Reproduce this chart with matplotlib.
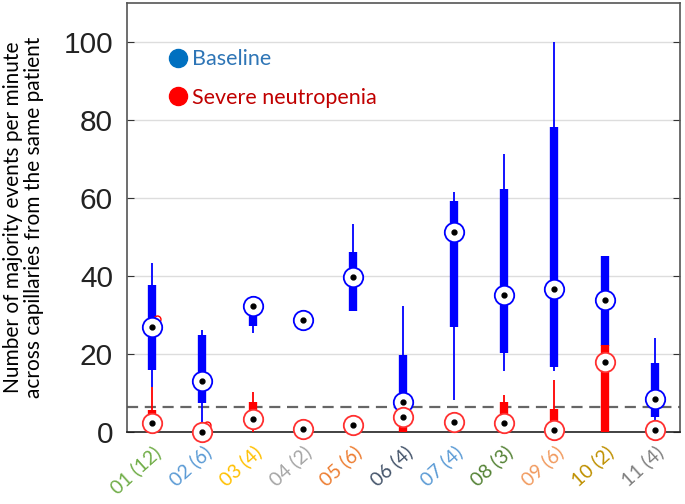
import numpy as np
import matplotlib
matplotlib.use("Agg")
import matplotlib.pyplot as plt
from matplotlib.lines import Line2D

# patient labels (number of capillaries)
patients = ['01 (12)', '02 (6)', '03 (4)', '04 (2)', '05 (6)', '06 (4)',
            '07 (4)', '08 (3)', '09 (6)', '10 (2)', '11 (4)']
label_colors = ['#70ad47', '#5b9bd5', '#ffc000', '#a5a5a5', '#ed7d31', '#44546a',
                '#5b9bd5', '#548235', '#f19a5e', '#bf9000', '#7f7f7f']

# baseline: whisker low, q1, median, q3, whisker high
base_wlo = [11.6, 0.5, 25.4, 28.0, 31.1, 5.0, 8.2, 15.5, 15.5, 22.0, 3.0]
base_q1 = [15.9, 7.4, 27.0, 28.0, 31.1, 6.0, 26.9, 20.3, 16.6, 22.0, 3.9]
base_med = [26.8, 12.9, 32.2, 28.7, 39.7, 7.5, 51.3, 35.2, 36.7, 33.7, 8.3]
base_q3 = [37.7, 24.9, 32.5, 30.0, 46.0, 19.7, 59.2, 62.2, 78.1, 45.0, 17.6]
base_whi = [43.4, 26.0, 33.0, 30.0, 53.2, 32.2, 61.4, 71.2, 100.1, 45.0, 24.0]

# severe neutropenia
sev_wlo = [0.0, 0.0, 0.0, 0.5, 1.0, 0.0, 2.0, 0.0, 0.0, 0.0, 0.0]
sev_q1 = [0.0, 0.0, 1.0, 0.5, 1.0, 0.0, 2.0, 0.5, 0.0, 0.0, 0.0]
sev_med = [2.3, 0.0, 3.2, 0.7, 1.6, 3.7, 2.4, 2.2, 0.4, 17.9, 0.4]
sev_q3 = [5.6, 0.5, 7.7, 1.0, 2.0, 4.5, 3.0, 7.7, 5.8, 22.3, 1.0]
sev_whi = [11.6, 1.0, 10.3, 1.0, 2.0, 5.0, 3.0, 9.5, 13.3, 22.3, 1.0]
sev_out_x = [1, 2]
sev_out_y = [29.0, 1.8]

threshold = 6.3

fig = plt.figure(figsize=(6.85, 5.04), dpi=100)
ax = fig.add_axes([0.1854, 0.1434, 0.8073, 0.8506])

x = np.arange(1, len(patients) + 1)

ax.set_xlim(0.5, 11.5)
ax.set_ylim(0, 110)
ax.set_yticks([0, 20, 40, 60, 80, 100])
ax.grid(axis='y', color='#dddddd', lw=1)
ax.set_axisbelow(True)

ax.axhline(threshold, color='#666666', ls=(0, (5, 3)), lw=1.6, zorder=2)

for wlo, q1, med, q3, whi, col, z in [
        (base_wlo, base_q1, base_med, base_q3, base_whi, '#0000ff', 3),
        (sev_wlo, sev_q1, sev_med, sev_q3, sev_whi, '#ff0000', 4)]:
    ax.vlines(x, wlo, whi, color=col, lw=1.3, zorder=z)
    ax.vlines(x, q1, q3, color=col, lw=6, zorder=z)

ax.plot(np.array(sev_out_x) + 0.09, sev_out_y, 'o', ms=5, mfc='none', mec='#ff0000', mew=1, zorder=4)

# medians
ax.plot(x, base_med, 'o', ms=14, mfc='white', mec='#0000ff', mew=1.3, zorder=5, clip_on=False)
ax.plot(x, base_med, 'o', ms=3.5, color='black', zorder=6, clip_on=False)
ax.plot(x, sev_med, 'o', ms=14, mfc='white', mec='#ff3030', mew=1.3, zorder=5, clip_on=False)
ax.plot(x, sev_med, 'o', ms=3.5, color='black', zorder=6, clip_on=False)

ax.set_xticks(x)
ax.set_xticklabels(patients, rotation=42, ha='right', va='top', rotation_mode='anchor',
                   fontsize=14, family='Lato')
for lab, c in zip(ax.get_xticklabels(), label_colors):
    lab.set_color(c)
ax.tick_params(axis='x', length=0, pad=8)
ax.tick_params(axis='y', direction='in', length=5, right=True, pad=10,
               labelsize=21.5, colors='#333333')
for lab in ax.get_yticklabels():
    lab.set_family('Liberation Sans')
    lab.set_color('#222222')

for s in ax.spines.values():
    s.set_color('#555555')
    s.set_linewidth(1.2)
ax.spines['bottom'].set_color('#222222')

ax.set_ylabel('Number of majority events per minute\nacross capillaries from the same patient',
              family='Lato', fontsize=15, linespacing=1.05)
ax.yaxis.set_label_coords(-0.15, 0.5)

handles = [Line2D([], [], marker='o', ls='none', ms=13, color='#0070c0'),
           Line2D([], [], marker='o', ls='none', ms=13, color='#ff0000')]
leg = ax.legend(handles, ['Baseline', 'Severe neutropenia'], loc='upper left',
                bbox_to_anchor=(0.057, 0.912), frameon=False, handletextpad=0.15,
                labelspacing=0.85, prop={'family': 'Lato', 'size': 15.5},
                handlelength=1.0, borderaxespad=0)
leg.get_texts()[0].set_color('#2e75b6')
leg.get_texts()[1].set_color('#c00000')

fig.savefig('out.png', dpi=100)
